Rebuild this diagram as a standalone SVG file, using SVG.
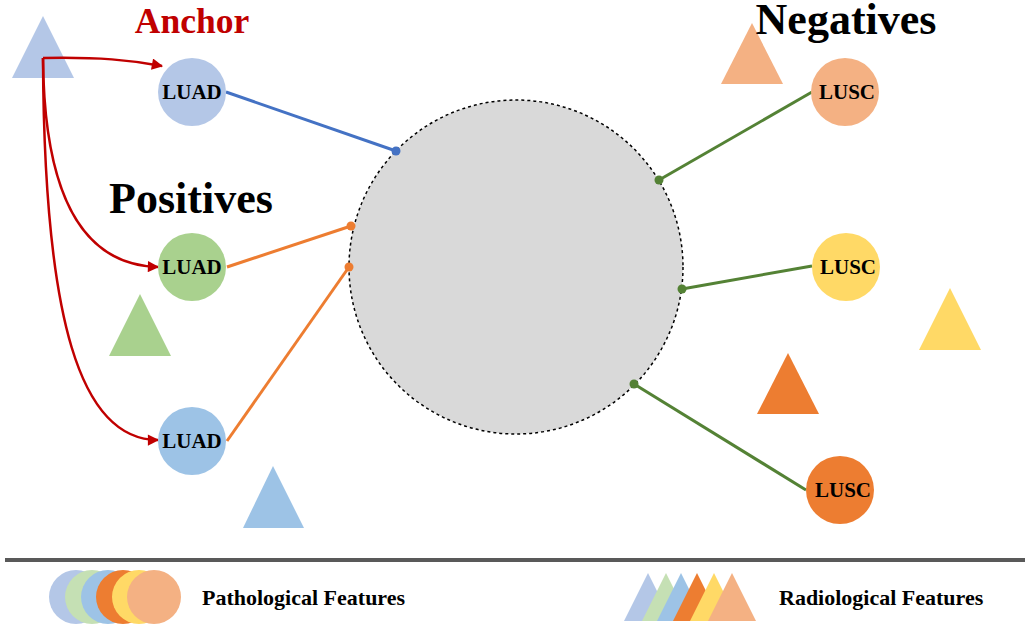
<svg xmlns="http://www.w3.org/2000/svg" width="1025" height="628" viewBox="0 0 1025 628">
<style>
.t{font-family:"Liberation Serif","Times New Roman",serif;font-weight:bold;text-anchor:middle}
.lbl{font-size:21px;fill:#000}
.head{font-size:44px;fill:#000}
.leg{font-family:"Liberation Serif","Times New Roman",serif;font-weight:bold;font-size:22px;fill:#000}
.red{fill:none;stroke:#C00000;stroke-width:2.5}
</style>
<defs>
<marker id="ah" viewBox="0 0 10 10" refX="9" refY="5" markerWidth="5.5" markerHeight="4.5" markerUnits="strokeWidth" orient="auto">
<path d="M0,0 L10,5 L0,10 z" fill="#C00000"/>
</marker>
</defs>
<rect width="1025" height="628" fill="#fff"/>

<g id="triangles">
<polygon points="43,16 74,78 12,78" fill="#B4C7E7"/>
<polygon points="140,294 171,356 109,356" fill="#A9D18E"/>
<polygon points="273,466 304,528 243,528" fill="#9DC3E6"/>
<polygon points="752,23 783,84 721,84" fill="#F4B183"/>
<polygon points="950,288 981,350 919,350" fill="#FFD966"/>
<polygon points="788,353 819,414 757,414" fill="#ED7D31"/>
</g>

<g id="embedding-space">
<circle cx="516" cy="267" r="167" fill="#D9D9D9" stroke="#000" stroke-width="1.5" stroke-dasharray="3,3"/>
</g>

<g id="connectors">
<path class="red" d="M43,58 C100,57 130,60 162,66" marker-end="url(#ah)"/>
<path class="red" d="M43,58 C44,190 80,265 158,267" marker-end="url(#ah)"/>
<path class="red" d="M43,58 C44,320 80,440 158,440" marker-end="url(#ah)"/>
<line x1="226" y1="92" x2="396" y2="151" stroke="#4472C4" stroke-width="3"/>
<circle cx="396" cy="151" r="4.5" fill="#4472C4"/>
<line x1="227" y1="267" x2="351" y2="226" stroke="#ED7D31" stroke-width="3"/>
<circle cx="351" cy="226" r="4.5" fill="#ED7D31"/>
<line x1="227" y1="441" x2="349" y2="267" stroke="#ED7D31" stroke-width="3"/>
<circle cx="349" cy="267" r="4.5" fill="#ED7D31"/>
<line x1="812" y1="92" x2="659" y2="180" stroke="#548235" stroke-width="3"/>
<circle cx="659" cy="180" r="4.5" fill="#548235"/>
<line x1="812" y1="266" x2="682" y2="289" stroke="#548235" stroke-width="3"/>
<circle cx="682" cy="289" r="4.5" fill="#548235"/>
<line x1="806" y1="490" x2="634" y2="384" stroke="#548235" stroke-width="3"/>
<circle cx="634" cy="384" r="4.5" fill="#548235"/>
</g>

<g id="anchor">
<circle cx="192" cy="92" r="34" fill="#B4C7E7"/>
<text class="t lbl" x="192" y="99">LUAD</text>
</g>
<g id="positive1">
<circle cx="192" cy="267" r="34" fill="#A9D18E"/>
<text class="t lbl" x="192" y="274">LUAD</text>
</g>
<g id="positive2">
<circle cx="192" cy="441" r="34" fill="#9DC3E6"/>
<text class="t lbl" x="192" y="448">LUAD</text>
</g>
<g id="negative1">
<circle cx="845" cy="92" r="34" fill="#F4B183"/>
<text class="t lbl" x="847" y="99">LUSC</text>
</g>
<g id="negative2">
<circle cx="846" cy="267" r="34" fill="#FFD966"/>
<text class="t lbl" x="848" y="274">LUSC</text>
</g>
<g id="negative3">
<circle cx="840" cy="490" r="34" fill="#ED7D31"/>
<text class="t lbl" x="843" y="497">LUSC</text>
</g>

<g id="headings">
<text class="t" x="192" y="33" font-size="35.5" fill="#C00000">Anchor</text>
<text class="t head" x="191" y="213">Positives</text>
<text class="t head" x="846" y="34">Negatives</text>
</g>

<g id="legend">
<line x1="5" y1="560" x2="1025" y2="560" stroke="#595959" stroke-width="4"/>
<circle cx="76" cy="597" r="27" fill="#B4C7E7"/>
<circle cx="92" cy="597" r="27" fill="#C5E0B4"/>
<circle cx="108" cy="597" r="27" fill="#9DC3E6"/>
<circle cx="123" cy="597" r="27" fill="#ED7D31"/>
<circle cx="139" cy="597" r="27" fill="#FFD966"/>
<circle cx="154" cy="597" r="27" fill="#F4B183"/>
<text class="leg" x="202" y="605">Pathological Features</text>
<polygon points="648,573 672,621 624,621" fill="#B4C7E7"/>
<polygon points="666,573 690,621 642,621" fill="#C5E0B4"/>
<polygon points="681,573 705,621 657,621" fill="#9DC3E6"/>
<polygon points="697,573 721,621 673,621" fill="#ED7D31"/>
<polygon points="714,573 738,621 690,621" fill="#FFD966"/>
<polygon points="732,573 756,621 708,621" fill="#F4B183"/>
<text class="leg" x="779" y="605">Radiological Features</text>
</g>
</svg>
